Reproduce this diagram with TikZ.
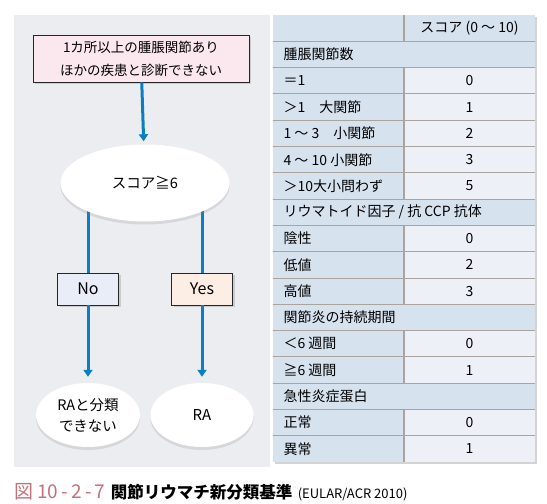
\documentclass[tikz,border=0pt]{standalone}
\usepackage{fontspec}
\setmainfont{Noto Sans CJK JP}
\usepackage{tikz}
\usetikzlibrary{positioning,arrows.meta,shapes.geometric,shadows,backgrounds}
\usepackage{xcolor}
\definecolor{panelgray}{HTML}{ECEDF1}
\definecolor{flowblue}{HTML}{0A7EC2}
\definecolor{boxpink}{HTML}{FBE7EE}
\definecolor{nofill}{HTML}{E9EDF8}
\definecolor{yesfill}{HTML}{FDEEE5}
\definecolor{tabdark}{HTML}{D7E2EF}
\definecolor{tablight}{HTML}{EDF1F7}
\definecolor{tabline}{HTML}{ABA39D}
\definecolor{figpink}{HTML}{C4707A}

\begin{document}
\begin{tikzpicture}[x=1pt,y=-1pt,>={Triangle[width=9pt,length=7pt]},
  flowline/.style={flowblue,line width=3pt},
  tagbox/.style={draw=black!85,line width=0.8pt,minimum width=61pt,minimum height=32pt,
    font=\fontsize{16}{18}\selectfont,drop shadow={opacity=0.3,shadow xshift=2pt,shadow yshift=-2pt}},
  oval/.style={ellipse,fill=white,inner sep=0pt,
    drop shadow={opacity=0.2,shadow xshift=0pt,shadow yshift=-3pt}},
  tabtext/.style={anchor=west,font=\fontsize{14}{15}\selectfont},
  tabval/.style={font=\fontsize{14}{15}\selectfont}]
\useasboundingbox (0,0) rectangle (547,504);

% flow chart
\node[draw=black!85,line width=0.8pt,fill=boxpink,minimum width=216pt,minimum height=47pt,align=center,
  font=\fontsize{13.5}{23}\selectfont,drop shadow={opacity=0.3,shadow xshift=2pt,shadow yshift=-2pt}]
  (start) at (141,58.5) {1カ所以上の腫脹関節あり\\ほかの疾患と診断できない};
\node[oval,minimum width=169pt,minimum height=77pt,font=\fontsize{14.5}{16}\selectfont] (score) at (145,183) {スコア≧6};
\node[tagbox,fill=nofill] (no) at (88,289) {No};
\node[tagbox,fill=yesfill] (yes) at (202,289) {Yes};
\node[oval,minimum width=104pt,minimum height=64pt,align=center,font=\fontsize{14.5}{21}\selectfont] (notra) at (88,415) {RAと分類\\できない};
\node[oval,minimum width=103pt,minimum height=64pt,font=\fontsize{15}{16}\selectfont] (ra) at (202,415) {RA};

\begin{scope}[on background layer]
\fill[panelgray] (14,15) rectangle (270,467);
\draw[flowline] (score.center -| no.north) -- (no.north);
\draw[flowline] (score.center -| yes.north) -- (yes.north);
\end{scope}
\draw[flowline,->,shorten >=3pt] (start) -- (score);
\draw[flowline,->,shorten >=6pt] (no) -- (notra);
\draw[flowline,->,shorten >=6pt] (yes) -- (ra);

% score table
\fill[tabdark,drop shadow={opacity=0.35,shadow xshift=2pt,shadow yshift=-2pt}] (273,15) rectangle (535,462);
\node[tabval] (head) at (469.5,28.2) {スコア (0 〜 10)};
\draw[tabline,line width=1.3pt] (404,15) -- (404,41.3);
\foreach \r/\lab in {1/腫脹関節数, 7/{リウマトイド因子 / 抗 CCP 抗体}, 11/関節炎の持続期間, 14/急性炎症蛋白}
  \node[tabtext] (sec\r) at (280,{15+(\r+0.5)*26.3}) {\lab};
\foreach \r/\lab/\val in {2/＝1/0, 3/{＞1　大関節}/1, 4/{1 〜 3　小関節}/2, 5/{4 〜 10 小関節}/3,
    6/＞10大小問わず/5, 8/陰性/0, 9/低値/2, 10/高値/3, 12/{＜6 週間}/0, 13/{≧6 週間}/1,
    15/正常/0, 16/異常/1} {
  \fill[tablight] (404,{15+\r*26.3}) rectangle (535,{15+(\r+1)*26.3});
  \draw[tabline,line width=1.3pt] (404,{15+\r*26.3}) -- (404,{15+(\r+1)*26.3});
  \node[tabtext] (lab\r) at (280,{15+(\r+0.5)*26.3}) {\lab};
  \node[tabval] (val\r) at (469.5,{15+(\r+0.5)*26.3}) {\val};
}
\foreach \r in {1,...,16}
  \draw[tabline,line width=1pt] (273,{15+\r*26.3}) -- (535,{15+\r*26.3});

% caption
\node[anchor=base west,inner sep=0pt,text=figpink,font=\fontsize{19}{19}\selectfont] (fignum) at (14,498) {図 10\,-\,2\,-\,7};
\node[anchor=base west,inner sep=0pt,font=\fontsize{16.5}{16}\selectfont\bfseries] (figtitle) at ([xshift=5pt]fignum.base east) {関節リウマチ新分類基準};
\node[anchor=base west,inner sep=0pt,font=\fontsize{13}{13}\selectfont] (figsrc) at ([xshift=5pt]figtitle.base east) {(EULAR/ACR 2010)};
\end{tikzpicture}
\end{document}
